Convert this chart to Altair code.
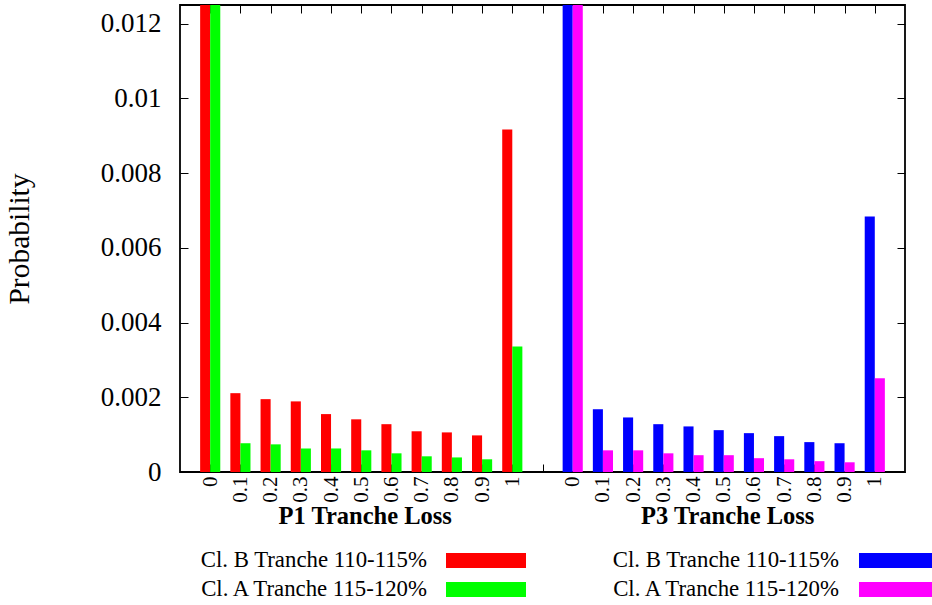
import altair as alt
import pandas as pd

# ---- data ----
loss_labels = ["0", "0.1", "0.2", "0.3", "0.4", "0.5", "0.6", "0.7", "0.8", "0.9", "1"]
groups = ["P1 Tranche Loss", "P3 Tranche Loss"]
series = ["Cl. B Tranche 110-115%", "Cl. A Tranche 115-120%"]
# values at loss 0 go far beyond the visible range (clipped in the reference)
p1_clB = [0.970, 0.00211, 0.00195, 0.00189, 0.00155, 0.00141, 0.00128, 0.00109, 0.00106, 0.00098, 0.00917]
p1_clA = [0.990, 0.00077, 0.00074, 0.00063, 0.00063, 0.00058, 0.00050, 0.00042, 0.00039, 0.00034, 0.00336]
p3_clB = [0.975, 0.00168, 0.00146, 0.00128, 0.00122, 0.00112, 0.00104, 0.00096, 0.00080, 0.00077, 0.00684]
p3_clA = [0.990, 0.00058, 0.00058, 0.00050, 0.00045, 0.00045, 0.00037, 0.00034, 0.00029, 0.00026, 0.00251]
y_ticks = [0, 0.002, 0.004, 0.006, 0.008, 0.01, 0.012]

values = {groups[0]: [p1_clB, p1_clA], groups[1]: [p3_clB, p3_clA]}
colors = {groups[0]: ["#ff0000", "#00ff00"], groups[1]: ["#0000ff", "#ff00ff"]}

rows = []
keys, key_colors = [], []
for g_i, g in enumerate(groups):
    for s_i, s in enumerate(series):
        key = f"{g} | {s}"
        keys.append(key)
        key_colors.append(colors[g][s_i])
        for c_i, lab in enumerate(loss_labels):
            slot = g_i * 12 + c_i + 1
            x0 = slot - 1 / 3 + s_i / 3
            rows.append({"key": key, "loss": lab, "x0": x0, "x1": x0 + 1 / 3,
                         "value": values[g][s_i][c_i]})
df = pd.DataFrame(rows)

W, H = 725, 467
FONT = "Liberation Serif"
slots = list(range(1, 24))
lab_arr = "[" + ",".join(f"'{l}'" for l in loss_labels) + "]"
label_expr = f"datum.value == 12 ? '' : {lab_arr}[(datum.value - 1) % 12]"

x_scale = alt.Scale(domain=[0, 24], nice=False, zero=False)
y_scale = alt.Scale(domain=[0, 0.0125], nice=False)

bars = alt.Chart(df).mark_rect(clip=True).encode(
    x=alt.X("x0:Q", scale=x_scale, axis=alt.Axis(
        orient="bottom", values=slots, labelExpr=label_expr, labelAngle=270,
        labelFont=FONT, labelFontSize=21, labelColor="black", labelPadding=4,
        labelOverlap=False, labelFlush=False, tickSize=8, offset=-8, domain=False,
        grid=False, title=None, tickColor="black", tickWidth=1)),
    x2="x1:Q",
    y=alt.Y("value:Q", scale=y_scale, axis=alt.Axis(
        orient="left", values=y_ticks, format="~g", labelFont=FONT,
        labelFontSize=27, labelColor="black", labelPadding=19, labelFlush=False,
        tickSize=8, offset=-8, domain=False, grid=False, tickColor="black",
        tickWidth=1, title="Probability", titleFont=FONT, titleFontSize=29.5,
        titleFontWeight="normal", titleColor="black", titlePadding=66)),
    y2=alt.datum(0),
    color=alt.Color("key:N", scale=alt.Scale(domain=keys, range=key_colors), legend=None),
)

mirror = alt.Chart(df).mark_rect(opacity=0).encode(
    x=alt.X("x0:Q", scale=x_scale, axis=alt.Axis(
        orient="top", values=slots, labels=False, tickSize=8, offset=-8,
        domain=False, grid=False, title=None, tickColor="black", tickWidth=1)),
    x2="x1:Q",
    y=alt.Y("value:Q", scale=y_scale, axis=alt.Axis(
        orient="right", values=y_ticks, labels=False, tickSize=8, offset=-8,
        domain=False, grid=False, title=None, tickColor="black", tickWidth=1)),
    y2=alt.datum(0),
)

gdf = pd.DataFrame({"group": groups, "pos": [6, 18]})
group_titles = alt.Chart(gdf).mark_text(
    font=FONT, fontSize=24.5, fontWeight="bold", baseline="alphabetic", align="center",
    color="black", dx=4).encode(
    x=alt.X("pos:Q", scale=x_scale, axis=None),
    y=alt.value(H + 52),
    text="group:N",
)

legend_layers = []
col_text_x = [247, 659]
col_sw_x = [266, 679]
row_text_y = [562, 591]
row_sw_y = [548, 577]
for g_i, g in enumerate(groups):
    for s_i, s in enumerate(series):
        one = pd.DataFrame({"label": [s]})
        legend_layers.append(
            alt.Chart(one).mark_text(font=FONT, fontSize=22.8, align="right",
                                     baseline="alphabetic", color="black").encode(
                x=alt.value(col_text_x[g_i]), y=alt.value(row_text_y[s_i]), text="label:N"))
        legend_layers.append(
            alt.Chart(one).mark_rect(color=colors[g][s_i]).encode(
                x=alt.value(col_sw_x[g_i]), x2=alt.value(col_sw_x[g_i] + 80),
                y=alt.value(row_sw_y[s_i]), y2=alt.value(row_sw_y[s_i] + 15)))

chart = alt.layer(mirror, bars, group_titles, *legend_layers).resolve_axis(
    x="independent", y="independent"
).properties(
    width=W, height=H,
    autosize=alt.AutoSizeParams(type="none"),
    padding={"left": 180, "top": 5, "right": 27, "bottom": 133},
    background="white",
).configure_view(stroke="black", strokeWidth=1.8)

chart.save("out.html", embed_options={"renderer": "svg", "actions": False})
